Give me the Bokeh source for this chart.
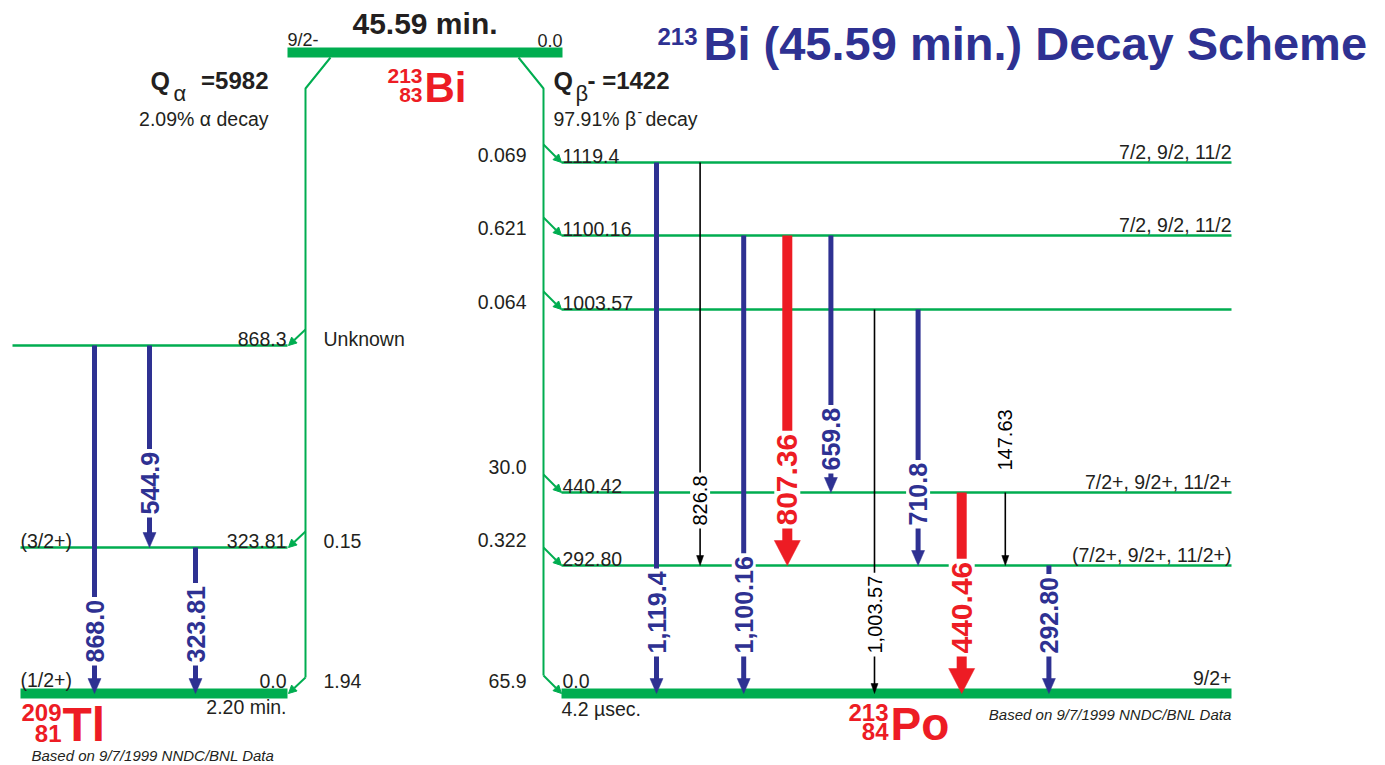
import math
from bokeh.plotting import figure
from bokeh.models import Range1d, ColumnDataSource, Arrow, NormalHead
from bokeh.core.properties import value
from bokeh.embed import file_html
from bokeh.resources import INLINE

# ---------------- data ----------------
title_mass = "213"
title_text = "Bi (45.59 min.) Decay Scheme"
parent_mass, parent_z, parent_symbol = "213", "83", "Bi"
parent_halflife = "45.59 min."
parent_spin = "9/2-"
parent_energy = "0.0"

q_alpha_value = "=5982"
alpha_branch = "2.09% \u03b1 decay"
q_beta_value = "- =1422"
beta_branch = "97.91% \u03b2"
beta_branch_tail = "decay"

tl_mass, tl_z, tl_symbol = "209", "81", "Tl"
tl_levels = ["868.3", "323.81", "0.0"]
tl_spins = ["", "(3/2+)", "(1/2+)"]
tl_alpha_intensity = ["Unknown", "0.15", "1.94"]
tl_halflife = "2.20 min."
tl_gamma_labels = ["868.0", "544.9", "323.81"]
tl_gamma_from = ["868.3", "868.3", "323.81"]
tl_gamma_to = ["0.0", "323.81", "0.0"]
tl_gamma_kind = ["strong", "strong", "strong"]

po_mass, po_z, po_symbol = "213", "84", "Po"
po_levels = ["1119.4", "1100.16", "1003.57", "440.42", "292.80", "0.0"]
po_spins = ["7/2, 9/2, 11/2", "7/2, 9/2, 11/2", "", "7/2+, 9/2+, 11/2+",
            "(7/2+, 9/2+, 11/2+)", "9/2+"]
po_beta_intensity = ["0.069", "0.621", "0.064", "30.0", "0.322", "65.9"]
po_halflife = "4.2 \u00b5sec."
po_gamma_labels = ["1,119.4", "826.8", "1,100.16", "807.36", "659.8",
                   "1,003.57", "710.8", "440.46", "147.63", "292.80"]
po_gamma_from = ["1119.4", "1119.4", "1100.16", "1100.16", "1100.16",
                 "1003.57", "1003.57", "440.42", "440.42", "292.80"]
po_gamma_to = ["0.0", "292.80", "0.0", "292.80", "440.42",
               "0.0", "292.80", "0.0", "292.80", "0.0"]
po_gamma_kind = ["strong", "weak", "strong", "intense", "strong",
                 "weak", "strong", "intense", "weak", "strong"]

note_text = "Based on 9/7/1999 NNDC/BNL Data"

# ---------------- layout (page pixels) ----------------
W, H = 1385, 765
parent_bar = (287, 562, 52)
tl_level_y = [345, 547, 693]
tl_level_x0 = [12, 20, 20]
tl_x1 = 287
po_level_y = [162, 235, 309, 492, 565, 693]
po_x0, po_x1 = 561, 1231
tl_gamma_x = [94, 149, 195]
po_gamma_x0, po_gamma_dx = 656, 43.6
tl_label_lift = {"0.0": 28, "323.81": 30}
po_label_lift = {"0.0": 37, "292.80": 37, "440.42": 19}
po_int_dy = [0, 0, 0, -18, -18, -5]
left_vx, right_vx = 305, 543
BAR_W = 10

GREEN = "#00ad50"
BLUE = "#2e3192"
RED = "#ed1c24"
DARK = "#231f20"
FONT = "Liberation Sans"

STYLE = {
    "strong": dict(color=BLUE, lw=5, hw=13, hh=15, size=25, style="bold"),
    "intense": dict(color=RED, lw=10, hw=26, hh=25, size=30, style="bold"),
    "weak": dict(color="#000000", lw=1.6, hw=7, hh=10, size=20, style="normal"),
}

p = figure(width=W, height=H, x_range=Range1d(0, W), y_range=Range1d(H, 0),
           output_backend="svg", toolbar_location=None, min_border=0,
           x_axis_type=None, y_axis_type=None)
p.grid.visible = False
p.outline_line_color = None
p.background_fill_color = "white"
p.border_fill_color = "white"

MID = 0.36  # distance (in em) from the baseline up to the middle of the glyphs


def txt(x, y, s, size=19.5, color=DARK, style="normal", align="left", angle=0.0,
        mid=False, bg=None, pad=0):
    """y is the text baseline unless mid=True (then y is the glyph middle)."""
    kw = {}
    if bg is not None:
        kw = dict(background_fill_color=bg, padding=pad)
    yy = y if mid else y - MID * size
    p.text(x=[x], y=[yy], text=[s], text_font=value(FONT), text_font_size=f"{size}px",
           text_color=color, text_font_style=style, text_align=align,
           text_baseline="middle", angle=angle, **kw)


def branch_arrows(xs0, ys0, xs1, ys1):
    src = ColumnDataSource(dict(x0=xs0, y0=ys0, x1=xs1, y1=ys1))
    p.add_layout(Arrow(source=src, x_start="x0", y_start="y0", x_end="x1", y_end="y1",
                       line_color=GREEN, line_width=2,
                       end=NormalHead(size=8, fill_color=GREEN, line_color=GREEN, line_width=1)))


# ---------------- title ----------------
txt(657, 45, title_mass, size=24, color=BLUE, style="bold")
txt(703, 60, title_text, size=47, color=BLUE, style="bold")

# ---------------- parent ----------------
bx0, bx1, by = parent_bar
p.quad(left=[bx0], right=[bx1], top=[by - BAR_W / 2], bottom=[by + BAR_W / 2],
       fill_color=GREEN, line_color=None)
txt(bx0, 46, parent_spin, size=18)
txt(bx1, 46, parent_energy, size=18, align="right")
txt((bx0 + bx1) / 2, 34, parent_halflife, size=30, style="bold", align="center")
txt(424, 102, parent_symbol, size=42, color=RED, style="bold")
txt(422, 83, parent_mass, size=21, color=RED, style="bold", align="right")
txt(422, 102, parent_z, size=21, color=RED, style="bold", align="right")

# Q values
txt(150, 89, "Q", size=25, style="bold")
txt(173, 101, "\u03b1", size=22)
txt(268, 89, q_alpha_value, size=24, style="bold", align="right")
txt(268, 126, alpha_branch, align="right")
txt(553, 89, "Q", size=25, style="bold")
txt(575, 101, "\u03b2", size=22)
txt(587, 89, q_beta_value, size=24, style="bold")
txt(553, 126, beta_branch)
txt(637, 117, "-", size=14)
txt(645, 126, beta_branch_tail)

# connectors
p.line(x=[bx0 + 43, left_vx, left_vx], y=[by + 5, 88, tl_level_y[-1] - 16],
       line_color=GREEN, line_width=2)
p.line(x=[bx1 - 44, right_vx, right_vx], y=[by + 5, 88, po_level_y[-1] - 18],
       line_color=GREEN, line_width=2)
branch_arrows([left_vx] * 3, [y - 16 for y in tl_level_y], [tl_x1 + 1] * 3, tl_level_y)
branch_arrows([right_vx] * 6, [y - 18 for y in po_level_y], [po_x0] * 6, po_level_y)


# ---------------- levels ----------------
def draw_levels(x0s, x1, ys):
    thin = [(a, y) for a, y in zip(x0s[:-1], ys[:-1])]
    p.segment(x0=[a for a, _ in thin], x1=[x1] * len(thin), y0=[y for _, y in thin],
              y1=[y for _, y in thin], line_color=GREEN, line_width=2.5)
    p.quad(left=[x0s[-1]], right=[x1], top=[ys[-1] - BAR_W / 2], bottom=[ys[-1] + BAR_W / 2],
           fill_color=GREEN, line_color=None)


draw_levels(tl_level_x0, tl_x1, tl_level_y)
draw_levels([po_x0] * len(po_level_y), po_x1, po_level_y)


def base(y, ground):
    return y - BAR_W / 2 if ground else y + 1


for i, (e, s, a) in enumerate(zip(tl_levels, tl_spins, tl_alpha_intensity)):
    g = i == len(tl_levels) - 1
    yb = base(tl_level_y[i], g)
    txt(tl_x1 - 1, yb, e, align="right")
    if s:
        txt(20, yb - (1 if g else 0), s)
    txt(323, yb, a)
txt(tl_x1 - 1, 714, tl_halflife, align="right")

for i, (e, s, b) in enumerate(zip(po_levels, po_spins, po_beta_intensity)):
    g = i == len(po_levels) - 1
    yb = base(po_level_y[i], g)
    txt(po_x0 + 1, yb, e)
    if s:
        txt(po_x1, (yb - 3) if g else po_level_y[i] - 3, s, align="right")
    txt(526, (po_level_y[i] + po_int_dy[i]), b, align="right")
txt(po_x0, 716, po_halflife)

# nuclide names
txt(62, 741, tl_symbol, size=48, color=RED, style="bold")
txt(61, 721, tl_mass, size=24, color=RED, style="bold", align="right")
txt(61, 742, tl_z, size=24, color=RED, style="bold", align="right")
txt(890, 740, po_symbol, size=46, color=RED, style="bold")
txt(888, 721, po_mass, size=24, color=RED, style="bold", align="right")
txt(888, 740, po_z, size=24, color=RED, style="bold", align="right")

txt(31, 760, note_text, size=15, style="italic")
txt(po_x1, 719, note_text, size=15, style="italic", align="right")


# ---------------- gammas ----------------
def draw_gammas(labels, frm, to, kinds, xs, levels, level_y, lift):
    ymap = dict(zip(levels, level_y))
    deferred = []
    for lab, f, t, k, x in zip(labels, frm, to, kinds, xs):
        st = STYLE[k]
        y0, tip = ymap[f], ymap[t]
        p.segment(x0=[x], x1=[x], y0=[y0], y1=[tip - st["hh"] + 1],
                  line_color=st["color"], line_width=st["lw"])
        p.patch(x=[x - st["hw"] / 2, x + st["hw"] / 2, x],
                y=[tip - st["hh"], tip - st["hh"], tip],
                fill_color=st["color"], line_color=st["color"], line_width=0.5)
        deferred.append((lab, f, t, k, x, y0, tip))
    for lab, f, t, k, x, y0, tip in deferred:
        st = STYLE[k]
        if tip - y0 > 120:
            txt(x, tip - lift[t], lab, size=st["size"], color=st["color"], style=st["style"],
                align="left", angle=math.pi / 2, mid=True, bg="white", pad=3)
        else:
            txt(x, y0 - 22, lab, size=st["size"], color=st["color"], style=st["style"],
                align="left", angle=math.pi / 2, mid=True)


draw_gammas(tl_gamma_labels, tl_gamma_from, tl_gamma_to, tl_gamma_kind, tl_gamma_x,
            tl_levels, tl_level_y, tl_label_lift)
po_gamma_x = [po_gamma_x0 + i * po_gamma_dx for i in range(len(po_gamma_labels))]
draw_gammas(po_gamma_labels, po_gamma_from, po_gamma_to, po_gamma_kind, po_gamma_x,
            po_levels, po_level_y, po_label_lift)

open("out.html", "w").write(file_html(p, INLINE))
